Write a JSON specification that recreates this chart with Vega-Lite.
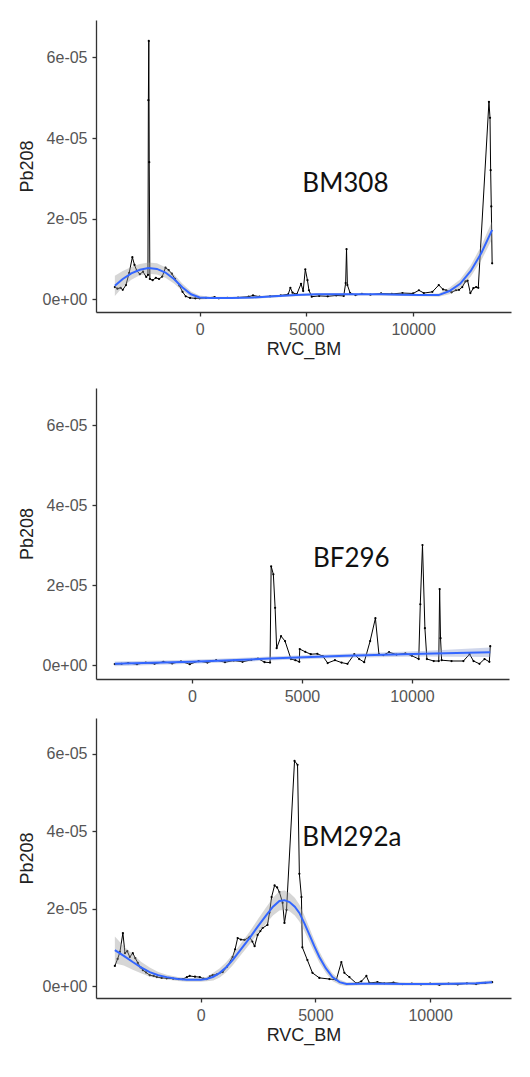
{
  "$schema": "https://vega.github.io/schema/vega-lite/v6.json",
  "background": "white",
  "padding": {"left": 18, "top": 20, "right": 5, "bottom": 5},
  "spacing": 30,
  "datasets": {
    "p1raw": [
      {"x": -3970, "y": 3.0e-6}, {"x": -3850, "y": 2.6e-6}, {"x": -3700, "y": 2.8e-6}, {"x": -3600, "y": 2.3e-6},
      {"x": -3450, "y": 3.5e-6}, {"x": -3300, "y": 6.5e-6}, {"x": -3150, "y": 1.04e-5}, {"x": -3050, "y": 8.5e-6},
      {"x": -2940, "y": 7.0e-6}, {"x": -2800, "y": 6.2e-6}, {"x": -2650, "y": 6.8e-6}, {"x": -2500, "y": 5.5e-6},
      {"x": -2420, "y": 6.0e-6}, {"x": -2400, "y": 4.94e-5}, {"x": -2380, "y": 6.41e-5}, {"x": -2360, "y": 3.4e-5},
      {"x": -2330, "y": 5.0e-6}, {"x": -2200, "y": 4.7e-6}, {"x": -2050, "y": 5.3e-6}, {"x": -1900, "y": 5.0e-6},
      {"x": -1750, "y": 5.6e-6}, {"x": -1600, "y": 7.8e-6}, {"x": -1450, "y": 7.2e-6}, {"x": -1300, "y": 6.3e-6},
      {"x": -1150, "y": 5.0e-6}, {"x": -950, "y": 3.4e-6}, {"x": -800, "y": 1.8e-6}, {"x": -650, "y": 7e-7},
      {"x": -450, "y": 3e-7}, {"x": -200, "y": 2e-7}, {"x": 0, "y": 2e-7}, {"x": 300, "y": 3e-7},
      {"x": 700, "y": 5e-7}, {"x": 900, "y": 2e-7}, {"x": 1300, "y": 3e-7}, {"x": 1800, "y": 4e-7},
      {"x": 2300, "y": 6e-7}, {"x": 2500, "y": 9e-7}, {"x": 2800, "y": 6e-7}, {"x": 3300, "y": 7e-7},
      {"x": 3800, "y": 9e-7}, {"x": 4150, "y": 1.2e-6}, {"x": 4250, "y": 2.8e-6}, {"x": 4350, "y": 1.6e-6},
      {"x": 4550, "y": 1.2e-6}, {"x": 4750, "y": 3.8e-6}, {"x": 4850, "y": 2.0e-6}, {"x": 4950, "y": 7.4e-6},
      {"x": 5050, "y": 4.7e-6}, {"x": 5120, "y": 2.2e-6}, {"x": 5250, "y": 6e-7}, {"x": 5600, "y": 8e-7},
      {"x": 6000, "y": 7e-7}, {"x": 6400, "y": 9e-7}, {"x": 6750, "y": 8e-7}, {"x": 6840, "y": 4e-6},
      {"x": 6880, "y": 1.24e-5}, {"x": 6920, "y": 3.5e-6}, {"x": 7050, "y": 1.5e-6}, {"x": 7300, "y": 1.0e-6},
      {"x": 7600, "y": 1.3e-6}, {"x": 8000, "y": 1.1e-6}, {"x": 8500, "y": 1.4e-6}, {"x": 9000, "y": 1.3e-6},
      {"x": 9500, "y": 1.5e-6}, {"x": 10000, "y": 1.4e-6}, {"x": 10270, "y": 2.2e-6}, {"x": 10500, "y": 1.5e-6},
      {"x": 10900, "y": 1.8e-6}, {"x": 11200, "y": 3.5e-6}, {"x": 11400, "y": 2.4e-6}, {"x": 11550, "y": 2.2e-6},
      {"x": 11800, "y": 1.7e-6}, {"x": 12000, "y": 2.2e-6}, {"x": 12150, "y": 2.3e-6}, {"x": 12300, "y": 3.0e-6},
      {"x": 12450, "y": 4.4e-6}, {"x": 12550, "y": 4.6e-6}, {"x": 12680, "y": 1.5e-6}, {"x": 12820, "y": 2.7e-6},
      {"x": 12950, "y": 3.0e-6}, {"x": 13050, "y": 2.8e-6}, {"x": 13550, "y": 4.9e-5}, {"x": 13600, "y": 4.5e-5},
      {"x": 13630, "y": 3.2e-5}, {"x": 13660, "y": 2.3e-5}, {"x": 13700, "y": 8.9e-6}
    ],
    "p1fit": [
      {"x": -3970, "y": 3.3e-6, "lo": 8e-7, "hi": 5.8e-6}, {"x": -3600, "y": 5.0e-6, "lo": 3.0e-6, "hi": 7.0e-6},
      {"x": -3200, "y": 6.4e-6, "lo": 4.8e-6, "hi": 8.0e-6}, {"x": -2800, "y": 7.3e-6, "lo": 5.9e-6, "hi": 8.7e-6},
      {"x": -2400, "y": 7.7e-6, "lo": 6.3e-6, "hi": 9.1e-6}, {"x": -2000, "y": 7.5e-6, "lo": 6.1e-6, "hi": 8.9e-6},
      {"x": -1600, "y": 6.6e-6, "lo": 5.3e-6, "hi": 7.9e-6}, {"x": -1200, "y": 5.0e-6, "lo": 3.9e-6, "hi": 6.1e-6},
      {"x": -800, "y": 2.9e-6, "lo": 2.0e-6, "hi": 3.8e-6}, {"x": -400, "y": 1.2e-6, "lo": 5e-7, "hi": 1.9e-6},
      {"x": 0, "y": 4e-7, "lo": -1e-7, "hi": 9e-7}, {"x": 500, "y": 3e-7, "lo": 0, "hi": 6e-7},
      {"x": 1500, "y": 3e-7, "lo": 0, "hi": 6e-7}, {"x": 2500, "y": 4e-7, "lo": 1e-7, "hi": 7e-7},
      {"x": 3500, "y": 7e-7, "lo": 4e-7, "hi": 1.0e-6}, {"x": 4500, "y": 1.0e-6, "lo": 7e-7, "hi": 1.3e-6},
      {"x": 5500, "y": 1.2e-6, "lo": 9e-7, "hi": 1.5e-6}, {"x": 6500, "y": 1.2e-6, "lo": 9e-7, "hi": 1.5e-6},
      {"x": 7500, "y": 1.2e-6, "lo": 9e-7, "hi": 1.5e-6}, {"x": 8500, "y": 1.2e-6, "lo": 9e-7, "hi": 1.5e-6},
      {"x": 9500, "y": 1.1e-6, "lo": 8e-7, "hi": 1.4e-6}, {"x": 10300, "y": 1.0e-6, "lo": 7e-7, "hi": 1.3e-6},
      {"x": 11200, "y": 1.0e-6, "lo": 6e-7, "hi": 1.4e-6}, {"x": 11700, "y": 2.0e-6, "lo": 1.2e-6, "hi": 2.8e-6},
      {"x": 12200, "y": 3.8e-6, "lo": 2.7e-6, "hi": 4.9e-6}, {"x": 12700, "y": 7.0e-6, "lo": 5.6e-6, "hi": 8.4e-6},
      {"x": 13200, "y": 1.15e-5, "lo": 9.7e-6, "hi": 1.33e-5}, {"x": 13700, "y": 1.72e-5, "lo": 1.5e-5, "hi": 1.94e-5}
    ],
    "p2raw": [
      {"x": -3510, "y": 2.5e-7}, {"x": -3200, "y": 3e-7}, {"x": -2900, "y": 5e-7}, {"x": -2500, "y": 2e-7},
      {"x": -2100, "y": 6e-7}, {"x": -1700, "y": 3e-7}, {"x": -1300, "y": 8e-7}, {"x": -900, "y": 4e-7},
      {"x": -500, "y": 9e-7}, {"x": -100, "y": 2e-7}, {"x": 300, "y": 1.0e-6}, {"x": 700, "y": 6e-7},
      {"x": 1100, "y": 1.2e-6}, {"x": 1500, "y": 7e-7}, {"x": 1900, "y": 1.1e-6}, {"x": 2300, "y": 8e-7},
      {"x": 2700, "y": 1.3e-6}, {"x": 3000, "y": 1.6e-6}, {"x": 3300, "y": 7e-7}, {"x": 3550, "y": 6e-7},
      {"x": 3600, "y": 2.47e-5}, {"x": 3700, "y": 2.27e-5}, {"x": 3780, "y": 1.43e-5}, {"x": 3850, "y": 4.2e-6},
      {"x": 4050, "y": 7.2e-6}, {"x": 4230, "y": 6.0e-6}, {"x": 4500, "y": 1.5e-6}, {"x": 4700, "y": 1.2e-6},
      {"x": 4880, "y": 8e-7}, {"x": 4900, "y": 4.0e-6}, {"x": 5150, "y": 3.3e-6}, {"x": 5400, "y": 2.7e-6},
      {"x": 5700, "y": 2.8e-6}, {"x": 5950, "y": 2.2e-6}, {"x": 6170, "y": 5e-7}, {"x": 6500, "y": 1.2e-6},
      {"x": 6800, "y": 6e-7}, {"x": 7070, "y": 3e-7}, {"x": 7380, "y": 2.7e-6}, {"x": 7600, "y": 1.5e-6},
      {"x": 7830, "y": 7e-7}, {"x": 8100, "y": 6.0e-6}, {"x": 8340, "y": 1.17e-5}, {"x": 8500, "y": 2.7e-6},
      {"x": 8700, "y": 2.5e-6}, {"x": 8960, "y": 3.2e-6}, {"x": 9300, "y": 2.6e-6}, {"x": 9700, "y": 2.9e-6},
      {"x": 10000, "y": 2.3e-6}, {"x": 10310, "y": 1.5e-6}, {"x": 10380, "y": 1.52e-5}, {"x": 10480, "y": 3.0e-5},
      {"x": 10590, "y": 9.2e-6}, {"x": 10680, "y": 1.5e-6}, {"x": 10990, "y": 1.0e-6}, {"x": 11220, "y": 1.0e-6},
      {"x": 11260, "y": 1.9e-5}, {"x": 11300, "y": 6.7e-6}, {"x": 11350, "y": 1.2e-6}, {"x": 11800, "y": 1.0e-6},
      {"x": 12340, "y": 1.0e-6}, {"x": 12620, "y": 2.7e-6}, {"x": 12800, "y": 1.0e-6}, {"x": 13070, "y": 3e-7},
      {"x": 13300, "y": 1.5e-6}, {"x": 13520, "y": 8e-7}, {"x": 13560, "y": 4.7e-6}
    ],
    "p2fit": [
      {"x": -3510, "y": 3e-7, "lo": -3e-7, "hi": 9e-7}, {"x": 0, "y": 8e-7, "lo": 3e-7, "hi": 1.3e-6},
      {"x": 3500, "y": 1.6e-6, "lo": 1.1e-6, "hi": 2.1e-6}, {"x": 7000, "y": 2.3e-6, "lo": 1.8e-6, "hi": 2.8e-6},
      {"x": 10500, "y": 2.8e-6, "lo": 2.1e-6, "hi": 3.5e-6}, {"x": 13560, "y": 3.2e-6, "lo": 2.0e-6, "hi": 4.4e-6}
    ],
    "p3raw": [
      {"x": -3740, "y": 5.2e-6}, {"x": -3620, "y": 7.0e-6}, {"x": -3520, "y": 8.8e-6}, {"x": -3390, "y": 1.37e-5},
      {"x": -3300, "y": 8.5e-6}, {"x": -3200, "y": 9.0e-6}, {"x": -3090, "y": 7.5e-6}, {"x": -2960, "y": 8.5e-6},
      {"x": -2850, "y": 7.2e-6}, {"x": -2740, "y": 6.0e-6}, {"x": -2620, "y": 4.8e-6}, {"x": -2520, "y": 4.1e-6},
      {"x": -2380, "y": 3.5e-6}, {"x": -2220, "y": 2.8e-6}, {"x": -2050, "y": 2.6e-6}, {"x": -1910, "y": 2.3e-6},
      {"x": -1700, "y": 2.1e-6}, {"x": -1480, "y": 2.0e-6}, {"x": -1200, "y": 1.9e-6}, {"x": -950, "y": 1.8e-6},
      {"x": -780, "y": 1.8e-6}, {"x": -600, "y": 2.3e-6}, {"x": -480, "y": 2.6e-6}, {"x": -250, "y": 2.4e-6},
      {"x": -40, "y": 2.3e-6}, {"x": 120, "y": 1.9e-6}, {"x": 260, "y": 1.8e-6}, {"x": 400, "y": 2.5e-6},
      {"x": 520, "y": 2.8e-6}, {"x": 700, "y": 3.0e-6}, {"x": 960, "y": 3.6e-6}, {"x": 1150, "y": 5.0e-6},
      {"x": 1390, "y": 7.5e-6}, {"x": 1500, "y": 9.5e-6}, {"x": 1610, "y": 1.24e-5}, {"x": 1750, "y": 1.2e-5},
      {"x": 1910, "y": 1.19e-5}, {"x": 2130, "y": 1.27e-5}, {"x": 2250, "y": 1.15e-5}, {"x": 2350, "y": 1.03e-5},
      {"x": 2480, "y": 1.32e-5}, {"x": 2600, "y": 1.42e-5}, {"x": 2700, "y": 1.5e-5}, {"x": 2910, "y": 1.58e-5},
      {"x": 3000, "y": 1.9e-5}, {"x": 3090, "y": 2.3e-5}, {"x": 3220, "y": 2.6e-5}, {"x": 3330, "y": 2.55e-5},
      {"x": 3430, "y": 2.43e-5}, {"x": 3570, "y": 2.15e-5}, {"x": 3650, "y": 1.63e-5}, {"x": 3740, "y": 1.97e-5},
      {"x": 4090, "y": 5.82e-5}, {"x": 4220, "y": 5.72e-5}, {"x": 4300, "y": 2.9e-5}, {"x": 4390, "y": 2.3e-5},
      {"x": 4430, "y": 1.0e-5}, {"x": 4650, "y": 6.7e-6}, {"x": 4870, "y": 3.4e-6}, {"x": 5170, "y": 2.1e-6},
      {"x": 5610, "y": 1.8e-6}, {"x": 5910, "y": 1.6e-6}, {"x": 6130, "y": 6.2e-6}, {"x": 6260, "y": 3.4e-6},
      {"x": 6480, "y": 2.3e-6}, {"x": 6780, "y": 7e-7}, {"x": 7000, "y": 1.2e-6}, {"x": 7220, "y": 2.6e-6},
      {"x": 7350, "y": 8e-7}, {"x": 7700, "y": 1.0e-6}, {"x": 8000, "y": 7e-7}, {"x": 8400, "y": 9e-7},
      {"x": 8800, "y": 5e-7}, {"x": 9200, "y": 6e-7}, {"x": 9600, "y": 4e-7}, {"x": 10000, "y": 6e-7},
      {"x": 10400, "y": 3e-7}, {"x": 10800, "y": 6e-7}, {"x": 11200, "y": 4e-7}, {"x": 11600, "y": 7e-7},
      {"x": 12000, "y": 5e-7}, {"x": 12400, "y": 8e-7}, {"x": 12700, "y": 1.0e-6}
    ],
    "p3fit": [
      {"x": -3740, "y": 9.3e-6, "lo": 5.8e-6, "hi": 1.28e-5}, {"x": -3350, "y": 7.8e-6, "lo": 5.3e-6, "hi": 1.03e-5},
      {"x": -2960, "y": 6.2e-6, "lo": 4.2e-6, "hi": 8.2e-6}, {"x": -2600, "y": 4.8e-6, "lo": 3.3e-6, "hi": 6.3e-6},
      {"x": -2220, "y": 3.6e-6, "lo": 2.4e-6, "hi": 4.8e-6}, {"x": -1850, "y": 2.8e-6, "lo": 2.0e-6, "hi": 3.6e-6},
      {"x": -1480, "y": 2.3e-6, "lo": 1.7e-6, "hi": 2.9e-6}, {"x": -1000, "y": 1.8e-6, "lo": 1.3e-6, "hi": 2.3e-6},
      {"x": -610, "y": 1.6e-6, "lo": 1.1e-6, "hi": 2.1e-6}, {"x": 0, "y": 1.6e-6, "lo": 1.1e-6, "hi": 2.1e-6},
      {"x": 260, "y": 1.8e-6, "lo": 1.2e-6, "hi": 2.4e-6}, {"x": 550, "y": 2.4e-6, "lo": 1.4e-6, "hi": 3.4e-6},
      {"x": 830, "y": 3.4e-6, "lo": 2.2e-6, "hi": 4.6e-6}, {"x": 1100, "y": 4.8e-6, "lo": 3.5e-6, "hi": 6.1e-6},
      {"x": 1390, "y": 6.7e-6, "lo": 5.3e-6, "hi": 8.1e-6}, {"x": 1750, "y": 9.5e-6, "lo": 8.0e-6, "hi": 1.1e-5},
      {"x": 2130, "y": 1.24e-5, "lo": 1.08e-5, "hi": 1.4e-5}, {"x": 2500, "y": 1.55e-5, "lo": 1.37e-5, "hi": 1.73e-5},
      {"x": 2870, "y": 1.84e-5, "lo": 1.63e-5, "hi": 2.05e-5}, {"x": 3150, "y": 2.05e-5, "lo": 1.82e-5, "hi": 2.28e-5},
      {"x": 3430, "y": 2.2e-5, "lo": 1.95e-5, "hi": 2.45e-5}, {"x": 3650, "y": 2.22e-5, "lo": 1.97e-5, "hi": 2.47e-5},
      {"x": 3870, "y": 2.17e-5, "lo": 1.93e-5, "hi": 2.41e-5}, {"x": 4100, "y": 2.05e-5, "lo": 1.82e-5, "hi": 2.28e-5},
      {"x": 4300, "y": 1.89e-5, "lo": 1.67e-5, "hi": 2.11e-5}, {"x": 4520, "y": 1.62e-5, "lo": 1.42e-5, "hi": 1.82e-5},
      {"x": 4740, "y": 1.32e-5, "lo": 1.14e-5, "hi": 1.5e-5}, {"x": 4950, "y": 1.03e-5, "lo": 8.7e-6, "hi": 1.19e-5},
      {"x": 5170, "y": 7.5e-6, "lo": 6.1e-6, "hi": 8.9e-6}, {"x": 5450, "y": 4.6e-6, "lo": 3.4e-6, "hi": 5.8e-6},
      {"x": 5740, "y": 2.3e-6, "lo": 1.3e-6, "hi": 3.3e-6}, {"x": 6050, "y": 1.0e-6, "lo": 3e-7, "hi": 1.7e-6},
      {"x": 6350, "y": 5e-7, "lo": 0, "hi": 1.0e-6}, {"x": 7000, "y": 6e-7, "lo": 2e-7, "hi": 1.0e-6},
      {"x": 8000, "y": 6e-7, "lo": 2e-7, "hi": 1.0e-6}, {"x": 9000, "y": 5e-7, "lo": 1e-7, "hi": 9e-7},
      {"x": 10000, "y": 5e-7, "lo": 1e-7, "hi": 9e-7}, {"x": 11000, "y": 6e-7, "lo": 2e-7, "hi": 1.0e-6},
      {"x": 12000, "y": 7e-7, "lo": 3e-7, "hi": 1.1e-6}, {"x": 12700, "y": 1.0e-6, "lo": 5e-7, "hi": 1.5e-6}
    ],
    "p1lab": [{"x": 4810, "y": 2.66e-5, "label": "BM308"}],
    "p2lab": [{"x": 5500, "y": 2.45e-5, "label": "BF296"}],
    "p3lab": [{"x": 4430, "y": 3.62e-5, "label": "BM292a"}]
  },
  "vconcat": [
    {
      "width": 415,
      "height": 292,
      "layer": [
        {
          "data": {"name": "p1raw"},
          "mark": {"type": "line", "color": "black", "strokeWidth": 1, "point": {"filled": true, "size": 5, "color": "black"}},
          "encoding": {
            "x": {"field": "x", "type": "quantitative", "scale": {"domain": [-4853, 14583], "nice": false, "zero": false},
                  "axis": {"title": "RVC_BM", "values": [0, 5000, 10000], "format": "d", "labelPadding": 5, "titlePadding": 3}},
            "y": {"field": "y", "type": "quantitative", "scale": {"domain": [-3.2e-6, 6.93e-5], "nice": false, "zero": false},
                  "axis": {"title": "Pb208", "values": [0, 2e-5, 4e-5, 6e-5], "labelExpr": "datum.value === 0 ? '0e+00' : format(datum.value * 1e5, 'd') + 'e-05'", "labelPadding": 5, "titlePadding": 6}}
          }
        },
        {
          "data": {"name": "p1fit"},
          "mark": {"type": "area", "color": "#999999", "opacity": 0.4},
          "encoding": {"x": {"field": "x", "type": "quantitative"}, "y": {"field": "lo", "type": "quantitative"}, "y2": {"field": "hi"}}
        },
        {
          "data": {"name": "p1fit"},
          "mark": {"type": "line", "color": "#3366FF", "strokeWidth": 2},
          "encoding": {"x": {"field": "x", "type": "quantitative"}, "y": {"field": "y", "type": "quantitative"}}
        },
        {
          "data": {"name": "p1lab"},
          "mark": {"type": "text", "align": "left", "baseline": "alphabetic", "font": "Lato", "fontSize": 26, "color": "#111"},
          "encoding": {"x": {"field": "x", "type": "quantitative"}, "y": {"field": "y", "type": "quantitative"}, "text": {"field": "label"}}
        }
      ]
    },
    {
      "spacing": 14,
      "vconcat": [
        {
          "width": 413,
          "height": 291,
          "layer": [
            {
              "data": {"name": "p2raw"},
              "mark": {"type": "line", "color": "black", "strokeWidth": 1, "point": {"filled": true, "size": 5, "color": "black"}},
              "encoding": {
                "x": {"field": "x", "type": "quantitative", "scale": {"domain": [-4363, 14413], "nice": false, "zero": false},
                      "axis": {"title": null, "values": [0, 5000, 10000], "format": "d", "labelPadding": 5}},
                "y": {"field": "y", "type": "quantitative", "scale": {"domain": [-3.5e-6, 6.93e-5], "nice": false, "zero": false},
                      "axis": {"title": "Pb208", "values": [0, 2e-5, 4e-5, 6e-5], "labelExpr": "datum.value === 0 ? '0e+00' : format(datum.value * 1e5, 'd') + 'e-05'", "labelPadding": 5, "titlePadding": 6}}
              }
            },
            {
              "data": {"name": "p2fit"},
              "mark": {"type": "area", "color": "#8899cc", "opacity": 0.4},
              "encoding": {"x": {"field": "x", "type": "quantitative"}, "y": {"field": "lo", "type": "quantitative"}, "y2": {"field": "hi"}}
            },
            {
              "data": {"name": "p2fit"},
              "mark": {"type": "line", "color": "#3366FF", "strokeWidth": 2},
              "encoding": {"x": {"field": "x", "type": "quantitative"}, "y": {"field": "y", "type": "quantitative"}}
            },
            {
              "data": {"name": "p2lab"},
              "mark": {"type": "text", "align": "left", "baseline": "alphabetic", "font": "Lato", "fontSize": 26, "color": "#111"},
              "encoding": {"x": {"field": "x", "type": "quantitative"}, "y": {"field": "y", "type": "quantitative"}, "text": {"field": "label"}}
            }
          ]
        },
        {
          "width": 415,
          "height": 280,
          "layer": [
            {
              "data": {"name": "p3raw"},
              "mark": {"type": "line", "color": "black", "strokeWidth": 1, "point": {"filled": true, "size": 5, "color": "black"}},
              "encoding": {
                "x": {"field": "x", "type": "quantitative", "scale": {"domain": [-4562, 13522], "nice": false, "zero": false},
                      "axis": {"title": "RVC_BM", "values": [0, 5000, 10000], "format": "d", "labelPadding": 5, "titlePadding": 3}},
                "y": {"field": "y", "type": "quantitative", "scale": {"domain": [-3.1e-6, 6.93e-5], "nice": false, "zero": false},
                      "axis": {"title": "Pb208", "values": [0, 2e-5, 4e-5, 6e-5], "labelExpr": "datum.value === 0 ? '0e+00' : format(datum.value * 1e5, 'd') + 'e-05'", "labelPadding": 5, "titlePadding": 6}}
              }
            },
            {
              "data": {"name": "p3fit"},
              "mark": {"type": "area", "color": "#999999", "opacity": 0.4},
              "encoding": {"x": {"field": "x", "type": "quantitative"}, "y": {"field": "lo", "type": "quantitative"}, "y2": {"field": "hi"}}
            },
            {
              "data": {"name": "p3fit"},
              "mark": {"type": "line", "color": "#3366FF", "strokeWidth": 2},
              "encoding": {"x": {"field": "x", "type": "quantitative"}, "y": {"field": "y", "type": "quantitative"}}
            },
            {
              "data": {"name": "p3lab"},
              "mark": {"type": "text", "align": "left", "baseline": "alphabetic", "font": "Lato", "fontSize": 26, "color": "#111"},
              "encoding": {"x": {"field": "x", "type": "quantitative"}, "y": {"field": "y", "type": "quantitative"}, "text": {"field": "label"}}
            }
          ]
        }
      ]
    }
  ],
  "config": {
    "view": {"stroke": null},
    "axis": {
      "grid": false,
      "domainColor": "#333333",
      "tickColor": "#333333",
      "domainWidth": 1.3,
      "tickWidth": 1.3,
      "tickSize": 4,
      "labelColor": "#555555",
      "titleColor": "#222222",
      "labelFont": "Liberation Sans",
      "titleFont": "Liberation Sans",
      "labelFontSize": 16,
      "titleFontSize": 18,
      "titleFontWeight": "normal"
    }
  }
}
